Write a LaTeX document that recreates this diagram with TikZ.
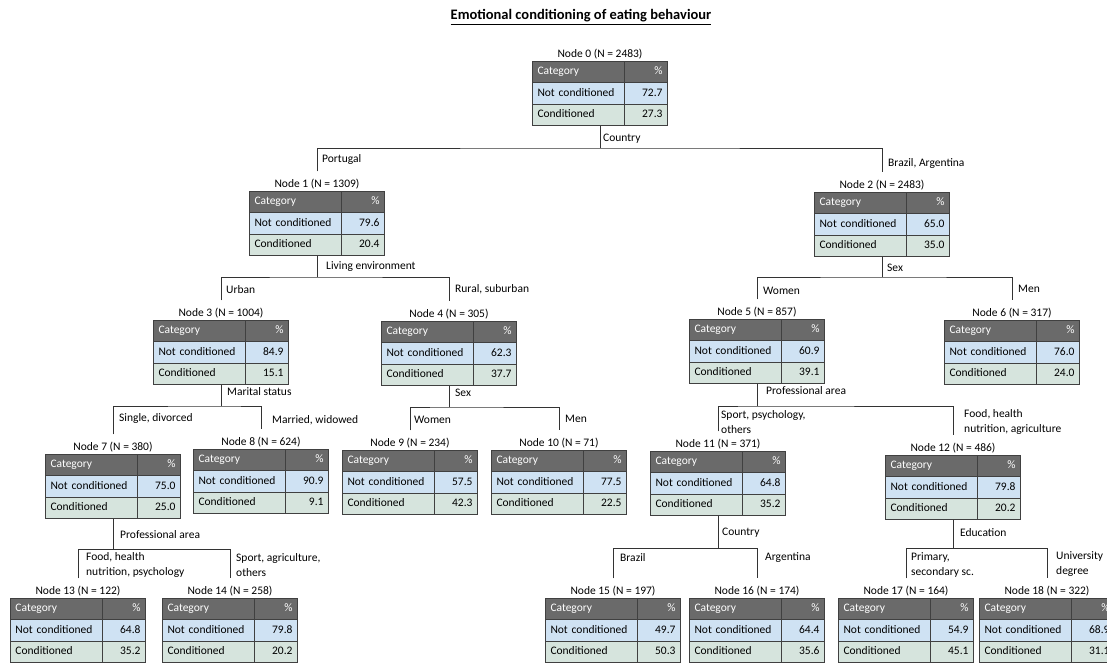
\documentclass[tikz,border=0pt]{standalone}
\usepackage{fontspec}
\setmainfont{Carlito}
\usetikzlibrary{positioning,fit}
\definecolor{hdrgray}{RGB}{106,106,106}
\definecolor{ncblue}{RGB}{207,226,243}
\definecolor{cdgreen}{RGB}{214,228,221}
\tikzset{
  cell/.style={draw=black!75,line width=0.7pt,minimum height=21.5pt,inner xsep=5pt,inner ysep=0pt,
    outer sep=0pt,text height=8pt,text depth=2.5pt,anchor=north west},
  lcol/.style={cell,text width=82pt,align=left},
  rcol/.style={cell,text width=33pt,align=right},
  hdr/.style={fill=hdrgray,text=white},
  ncrow/.style={fill=ncblue},
  cdrow/.style={fill=cdgreen},
  nlabel/.style={inner sep=1pt},
  brlabel/.style={anchor=west,inner sep=1pt,align=left},
  edge/.style={draw=black!80,line width=0.8pt}
}
% one result table: name, x, top y, node no, N, not conditioned, conditioned
\newcommand{\ctable}[7]{%
  \node[lcol,hdr] (#1a) at (#2-67.5,#3) {Category};
  \node[rcol,hdr,right=0pt of #1a] (#1b) {\%};
  \node[lcol,ncrow,below=0pt of #1a] (#1c) {Not conditioned};
  \node[rcol,ncrow,right=0pt of #1c] (#1d) {#6};
  \node[lcol,cdrow,below=0pt of #1c] (#1e) {Conditioned};
  \node[rcol,cdrow,right=0pt of #1e] (#1f) {#7};
  \node[fit=(#1a)(#1f),inner sep=0pt] (#1) {};
  \node[nlabel,above=1pt of #1] (#1l) {Node #4 (N = #5)};
}
\begin{document}
\begin{tikzpicture}[x=1pt,y=-1pt,font=\fontsize{11.5}{15}\selectfont]
\useasboundingbox (0,0) rectangle (1107,664);
\clip (0,0) rectangle (1107,664);
\fill[white] (0,0) rectangle (1107,664);
\node[font=\fontsize{14.5}{17}\selectfont\bfseries] (title) at (581,17) {\underline{Emotional conditioning of eating behaviour}};

\ctable{n0}{600}{61}{0}{2483}{72.7}{27.3}
\ctable{n1}{317}{191}{1}{1309}{79.6}{20.4}
\ctable{n2}{882}{192}{2}{2483}{65.0}{35.0}
\ctable{n3}{221}{320}{3}{1004}{84.9}{15.1}
\ctable{n4}{449}{321}{4}{305}{62.3}{37.7}
\ctable{n5}{757}{319}{5}{857}{60.9}{39.1}
\ctable{n6}{1012}{320}{6}{317}{76.0}{24.0}
\ctable{n7}{113}{454}{7}{380}{75.0}{25.0}
\ctable{n8}{261}{449}{8}{624}{90.9}{9.1}
\ctable{n9}{410}{450}{9}{234}{57.5}{42.3}
\ctable{n10}{559}{450}{10}{71}{77.5}{22.5}
\ctable{n11}{718}{451}{11}{371}{64.8}{35.2}
\ctable{n12}{953}{455}{12}{486}{79.8}{20.2}
\ctable{n13}{78}{598}{13}{122}{64.8}{35.2}
\ctable{n14}{230}{598}{14}{258}{79.8}{20.2}
\ctable{n15}{613}{598}{15}{197}{49.7}{50.3}
\ctable{n16}{757}{598}{16}{174}{64.4}{35.6}
\ctable{n17}{906}{598}{17}{164}{54.9}{45.1}
\ctable{n18}{1047}{598}{18}{322}{68.9}{31.1}

% split points
\coordinate (b0) at (600,148);
\coordinate (b1) at (317,277);
\coordinate (b2) at (882,277);
\coordinate (b3) at (221,406);
\coordinate (b4) at (449,407);
\coordinate (b5) at (757,406);
\coordinate (b7) at (113,549);
\coordinate (b11) at (718,548);
\coordinate (b12) at (953,548);

\draw[edge] (n0.south) -- (b0);
\draw[edge] ([yshift=6pt]n1l.north) |- (b0) -| ([yshift=6pt]n2l.north);
\draw[edge] (n1.south) -- (b1);
\draw[edge] ([yshift=6pt]n3l.north) |- (b1) -| ([yshift=6pt]n4l.north);
\draw[edge] (n2.south) -- (b2);
\draw[edge] ([yshift=6pt]n5l.north) |- (b2) -| ([yshift=6pt]n6l.north);
\draw[edge] (n3.south) -- (b3);
\draw[edge] ([yshift=6pt]n7l.north) |- (b3) -| ([yshift=6pt]n8l.north);
\draw[edge] (n4.south) -- (b4);
\draw[edge] ([yshift=6pt]n9l.north) |- (b4) -| ([yshift=6pt]n10l.north);
\draw[edge] (n5.south) -- (b5);
\draw[edge] ([yshift=6pt]n11l.north) |- (b5) -| ([yshift=6pt]n12l.north);
\draw[edge] (n7.south) -- (b7);
\draw[edge] ([yshift=6pt]n13l.north) |- (b7) -| ([yshift=6pt]n14l.north);
\draw[edge] (n11.south) -- (b11);
\draw[edge] ([yshift=6pt]n15l.north) |- (b11) -| ([yshift=6pt]n16l.north);
\draw[edge] (n12.south) -- (b12);
\draw[edge] ([yshift=6pt]n17l.north) |- (b12) -| ([yshift=6pt]n18l.north);

% split variables
\node[brlabel] (s0) at (602,139) {Country};
\node[brlabel] (s1) at (325,267) {Living environment};
\node[brlabel] (s2) at (886,268) {Sex};
\node[brlabel] (s3) at (226,392) {Marital status};
\node[brlabel] (s4) at (454,393) {Sex};
\node[brlabel] (s5) at (765,391) {Professional area};
\node[brlabel] (s7) at (119,535) {Professional area};
\node[brlabel] (s11) at (721,533) {Country};
\node[brlabel] (s12) at (959,533) {Education};

% branch values
\node[brlabel] (v1) at (321,159) {Portugal};
\node[brlabel] (v2) at (887,163) {Brazil, Argentina};
\node[brlabel] (v3) at (225,290) {Urban};
\node[brlabel] (v4) at (454,289) {Rural, suburban};
\node[brlabel] (v5) at (762,291) {Women};
\node[brlabel] (v6) at (1017,289) {Men};
\node[brlabel] (v7) at (118,418) {Single, divorced};
\node[brlabel] (v8) at (271,420) {Married, widowed};
\node[brlabel] (v9) at (413,420) {Women};
\node[brlabel] (v10) at (564,419) {Men};
\node[brlabel] (v11) at (720,422) {Sport, psychology,\\others};
\node[brlabel] (v12) at (963,422) {Food, health\\nutrition, agriculture};
\node[brlabel] (v13) at (85,565) {Food, health\\nutrition, psychology};
\node[brlabel] (v14) at (235,565) {Sport, agriculture,\\others};
\node[brlabel] (v15) at (619,558) {Brazil};
\node[brlabel] (v16) at (764,558) {Argentina};
\node[brlabel] (v17) at (910,565) {Primary,\\secondary sc.};
\node[brlabel] (v18) at (1055,564) {University\\degree};
\end{tikzpicture}
\end{document}
